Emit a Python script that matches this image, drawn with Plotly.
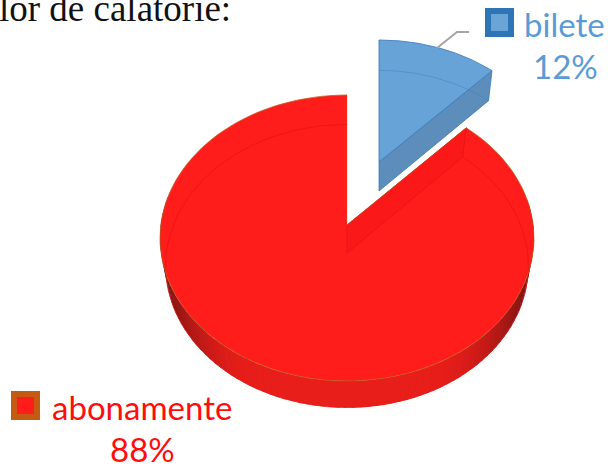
import math
import plotly.graph_objects as go

categories = ["abonamente", "bilete"]
values = [88, 12]
percent_labels = ["88%", "12%"]
title_text = "lor de calatorie:"

W, H = 608, 467
RED = "#FF1D1B"
BLUE_FILL = "rgba(91,155,213,0.92)"
BLUE_SIDE = "rgba(70,125,178,0.88)"

# (centre x, centre y, rx, ry, apex offset up from centre, depth)
GEOM = {
    "abonamente": (347, 238, 187, 143, 13, 28),
    "bilete": (379, 175, 178, 135, 13, 29),
}


def lower(g):
    """The bottom disc: lower down and slightly smaller through perspective."""
    cx, cy, rx, ry, ad, depth = g
    return (cx, cy + depth, rx * 0.97, ry * 0.99, ad, depth)


def rim(frac, g):
    """Point on the rim for a fraction of the pie, clockwise from 12 o'clock,
    ray cast from the apex in unsquashed circle space."""
    cx, cy, rx, ry, ad, _ = g
    a = frac * 2 * math.pi
    dx, dy = math.sin(a), math.cos(a)
    ay = ad * rx / ry
    b = ay * dy
    t = -b + math.sqrt(b * b - (ay * ay - rx * rx))
    return cx + t * dx, cy - (ay + t * dy) * ry / rx


def arc(f0, f1, g, n=120):
    pts = [rim(f0 + (f1 - f0) * i / n, g) for i in range(n + 1)]
    return [p[0] for p in pts], [p[1] for p in pts]


fig = go.Figure()


def poly(xs, ys, fill=None, line=None, lw=0):
    fig.add_trace(go.Scatter(
        x=xs, y=ys, mode="lines", hoverinfo="skip", showlegend=False,
        fill="toself" if fill else "none", fillcolor=fill,
        line=dict(color=line or "rgba(0,0,0,0)", width=lw),
    ))


total = sum(values)
blue_frac = values[1] / total

# ---- red slice: runs from the end of the blue sector round to 12 o'clock
g = GEOM["abonamente"]
gb = lower(g)
cx, cy, rx, ry, ad, depth = g
apex = (cx, cy - ad)
# curved side wall with shading, dark towards both ends
N = 90
for i in range(N):
    f0 = 0.22 + 0.56 * i / N
    f1 = 0.22 + 0.56 * (i + 1.4) / N
    xs, ys = arc(f0, f1, g, 4)
    xb, yb = arc(f1, f0, gb, 4)
    u = abs(math.sin(2 * math.pi * f0))
    k = max(0, (u - 0.45) / 0.55) ** 1.8
    shade = (int(232 - 128 * k), int(30 - 10 * k), int(26 - 8 * k))
    poly(xs + xb, ys + yb, fill=f"rgb{shade}")

xa, ya = arc(blue_frac, 1, g)
poly([apex[0]] + xa + [apex[0]], [apex[1]] + ya + [apex[1]], fill=RED)
# visible face of the cut, seen through the top
xc, yc = rim(blue_frac, g)
xcb, ycb = rim(blue_frac, gb)
poly([apex[0], xc, xcb, apex[0], apex[0]],
     [apex[1], yc, ycb, apex[1] + depth, apex[1]],
     fill="rgba(250,25,24,1)", line="rgba(225,20,20,0.8)", lw=1)
# far rim of the bottom disc shows through the translucent top
xi, yi = arc(blue_frac, 1, gb)
poly(xi, yi, line="rgba(225,20,20,0.75)", lw=1)
# brown outline of the top face
poly(xa, ya, line="rgba(190,95,30,0.75)", lw=1)
poly([apex[0], xc], [apex[1], yc], line="rgba(190,95,30,0.6)", lw=1)
poly([apex[0], apex[0]], [apex[1], cy - ry], line="rgba(190,95,30,0.35)", lw=1)

# ---- blue slice
g = GEOM["bilete"]
gb = lower(g)
cx, cy, rx, ry, ad, depth = g
apex = (cx, cy - ad)
xa, ya = arc(0, blue_frac, g)
xe, ye = rim(blue_frac, g)
xeb, yeb = rim(blue_frac, gb)
# cut face towards the viewer
poly([apex[0], xe, xeb, apex[0], apex[0]],
     [apex[1], ye, yeb, apex[1] + depth, apex[1]],
     fill=BLUE_SIDE, line="rgba(46,117,182,0.7)", lw=1)
# top face
poly([apex[0]] + xa + [apex[0]], [apex[1]] + ya + [apex[1]],
     fill=BLUE_FILL, line="rgba(60,125,190,0.85)", lw=1)
# far rim of the bottom face
xi, yi = arc(0, blue_frac, gb)
poly(xi, yi, line="rgba(60,125,190,0.45)", lw=1)

# ---- legend keys
fig.add_trace(go.Scatter(
    x=[499.5], y=[22.5], mode="markers", hoverinfo="skip", showlegend=False,
    marker=dict(symbol="square", size=23, color="#6BA5D8", opacity=1,
                line=dict(color="#2E75B6", width=6)),
))
fig.add_trace(go.Scatter(
    x=[25.5], y=[405.5], mode="markers", hoverinfo="skip", showlegend=False,
    marker=dict(symbol="square", size=23, color=RED, opacity=1,
                line=dict(color="#C55A11", width=6)),
))

annotations = [
    dict(x=233, y=18, text=title_text, xanchor="right", yanchor="bottom", yshift=-13,
         font=dict(family="Liberation Serif", size=37, color="#111111")),
    dict(x=564.5, y=24, text=categories[1], font=dict(family="Lato", size=33, color="#5B9BD5")),
    dict(x=565, y=66, text=percent_labels[1], font=dict(family="Lato", size=33, color="#5B9BD5")),
    dict(x=142, y=407, text=categories[0], font=dict(family="Lato", size=33, color="#FF0D0D")),
    dict(x=142, y=449, text=percent_labels[0], font=dict(family="Lato", size=33, color="#FF0D0D")),
]
for a in annotations:
    a.update(xref="x", yref="y", showarrow=False)

fig.update_layout(
    width=W, height=H, margin=dict(l=0, r=0, t=0, b=0),
    paper_bgcolor="white", plot_bgcolor="white", showlegend=False,
    xaxis=dict(range=[0, W], visible=False, fixedrange=True),
    yaxis=dict(range=[H, 0], visible=False, fixedrange=True),
    annotations=annotations,
    shapes=[dict(type="path", path="M 437 48 L 457 32 L 469 32",
                 line=dict(color="#A6A6A6", width=2), xref="x", yref="y")],
)

fig.write_html("out.html", config={"displayModeBar": False},
               post_script="document.body.style.margin='0';document.body.style.overflow='hidden';")
